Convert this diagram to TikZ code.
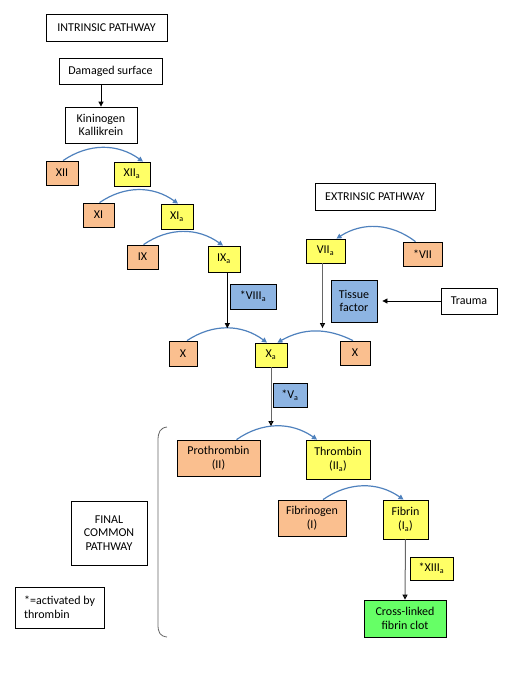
\documentclass[tikz,border=0pt]{standalone}
\usepackage{fontspec}
\setmainfont{Carlito}
\usetikzlibrary{arrows.meta}
\definecolor{salmon}{RGB}{250,191,143}
\definecolor{lightyellow}{RGB}{255,255,102}
\definecolor{cofactorblue}{RGB}{141,180,226}
\definecolor{clotgreen}{RGB}{102,255,102}
\definecolor{arcblue}{RGB}{79,129,189}
\begin{document}
\begin{tikzpicture}[x=1pt, y=-1pt, font=\fontsize{12}{13.5}\selectfont]
    \tikzstyle{box_style}=[rectangle, draw, line width=0.8pt, inner sep=1pt, align=center]
    \tikzstyle{factor_style}=[box_style, fill=salmon]
    \tikzstyle{active_style}=[box_style, fill=lightyellow]
    \tikzstyle{cofactor_style}=[box_style, fill=cofactorblue]
    \tikzstyle{arc_style}=[arcblue, line width=1.2pt, -{Triangle[length=5pt, width=5pt]}]
    \tikzstyle{black_style}=[black, line width=0.8pt, -{Triangle[length=5pt, width=5pt]}]
    \tikzstyle{grey_style}=[black!60, line width=1pt, -{Triangle[length=5pt, width=5pt, black]}]
    \useasboundingbox (0,0) rectangle (525,689);

    % intrinsic pathway
    \draw node at (106.5, 27.5) [box_style, minimum width=121, minimum height=27] (intrinsic) {INTRINSIC PATHWAY};
    \draw node at (110.5, 71) [box_style, minimum width=103, minimum height=26] (damaged) {Damaged surface};
    \draw node at (101, 125) [box_style, minimum width=72, minimum height=36] (kinin) {Kininogen\\Kallikrein};
    \draw node at (62, 173) [factor_style, minimum width=32, minimum height=24] (xii) {XII};
    \draw node at (132, 174) [active_style, minimum width=36, minimum height=24] (xiia) {XII\textsubscript{a}};
    \draw node at (98.5, 215) [factor_style, minimum width=31, minimum height=24] (xi) {XI};
    \draw node at (177, 216.5) [active_style, minimum width=32, minimum height=25] (xia) {XI\textsubscript{a}};
    \draw node at (142.5, 257) [factor_style, minimum width=31, minimum height=24] (ix) {IX};
    \draw node at (224, 259) [active_style, minimum width=32, minimum height=26] (ixa) {IX\textsubscript{a}};
    \draw node at (253, 296.5) [cofactor_style, minimum width=46, minimum height=25] (viiia) {*VIII\textsubscript{a}};
    \draw node at (183, 353.5) [factor_style, minimum width=28, minimum height=25] (x_left) {X};
    \draw node at (271, 355) [active_style, minimum width=32, minimum height=24] (xa) {X\textsubscript{a}};
    \draw node at (290, 395) [cofactor_style, minimum width=34, minimum height=24] (va) {*V\textsubscript{a}};

    % extrinsic pathway
    \draw node at (375, 196.5) [box_style, minimum width=120, minimum height=27] (extrinsic) {EXTRINSIC PATHWAY};
    \draw node at (325.5, 251) [active_style, minimum width=39, minimum height=24] (viia) {VII\textsubscript{a}};
    \draw node at (422.5, 254) [factor_style, minimum width=39, minimum height=24] (vii) {*VII};
    \draw node at (354, 301) [cofactor_style, minimum width=46, minimum height=42] (tissue) {Tissue\\factor};
    \draw node at (469, 301) [box_style, minimum width=56, minimum height=26] (trauma) {Trauma};
    \draw node at (355, 353) [factor_style, minimum width=30, minimum height=24] (x_right) {X};

    % final common pathway
    \draw node at (218.5, 458) [factor_style, minimum width=83, minimum height=36] (prothrombin) {Prothrombin\\(II)};
    \draw node at (338, 459.5) [active_style, minimum width=64, minimum height=39] (thrombin) {Thrombin\\(II\textsubscript{a})};
    \draw node at (312, 518) [factor_style, minimum width=68, minimum height=36] (fibrinogen) {Fibrinogen\\(I)};
    \draw node at (405.5, 519.5) [active_style, minimum width=45, minimum height=39] (fibrin) {Fibrin\\(I\textsubscript{a})};
    \draw node at (431.5, 568.5) [active_style, minimum width=43, minimum height=23] (xiiia) {*XIII\textsubscript{a}};
    \draw node at (405, 618.5) [box_style, fill=clotgreen, minimum width=82, minimum height=37] (clot) {Cross-linked\\fibrin clot};
    \draw node at (109, 533) [box_style, minimum width=76, minimum height=64] (final) {FINAL\\COMMON\\PATHWAY};
    \draw node at (59.5, 607.5) [box_style, minimum width=89, minimum height=41, align=left] (legend) {*=activated by\\thrombin};

    % bracket
    \draw[black!60, line width=0.8pt] (167, 427) .. controls (160, 428) and (158, 432) .. (158, 441)
      -- (158, 624) .. controls (158, 633) and (160, 636) .. (167, 637);

    % connect: intrinsic cascade
    \path[black_style] (kinin.north |- damaged.south) edge (kinin.north);
    \foreach \a/\b/\s in {xii/xiia/11, xi/xia/1, ix/ixa/-1}
      \path[arc_style] ([xshift=1]\a.north) edge[bend left=35] ([xshift=\s]\b.north);
    \path[arc_style] ([xshift=4]x_left.north) edge[bend left=35] node[coordinate, pos=0.5] (x_top) {} ([xshift=-4]xa.north);
    \path[black_style] (ixa.south -| x_top) edge (x_top);

    % connect: extrinsic
    \path[arc_style] ([xshift=-7]vii.north) edge[bend right=35] ([xshift=11]viia.north);
    \path[arc_style] ([xshift=-2]x_right.north) edge[bend right=28] ([xshift=-10]xa.north east);
    \path[black_style] (trauma.west) edge[shorten >=5pt] (tissue.east);
    \path[grey_style] ([xshift=-3]viia.south) edge ([xshift=-3]viia.south |- x_top);

    % connect: common pathway
    \path[arc_style] ([xshift=18]prothrombin.north) edge[bend left=35] node[coordinate, pos=0.5] (pro_top) {} ([xshift=-21]thrombin.north);
    \path[grey_style] (xa.south) edge (xa.south |- pro_top);
    \path[arc_style] ([xshift=11]fibrinogen.north) edge[bend left=35] ([xshift=-2]fibrin.north);
    \path[grey_style] (fibrin.south) edge (clot.north);
\end{tikzpicture}
\end{document}
